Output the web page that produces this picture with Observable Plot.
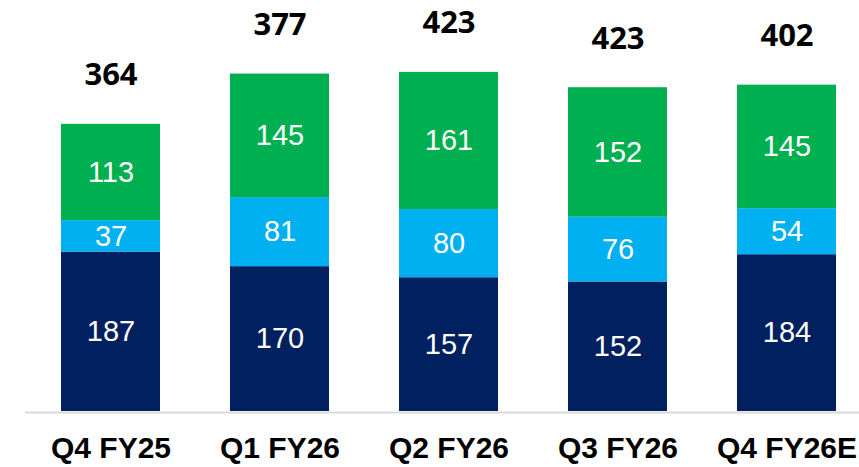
<!DOCTYPE html>
<html>
<head>
<meta charset="utf-8">
<script src="https://cdn.jsdelivr.net/npm/d3@7"></script>
<script src="https://cdn.jsdelivr.net/npm/@observablehq/plot@0.6"></script>
<style>
  html, body { margin: 0; padding: 0; background: #fff; }
  #chart svg { display: block; }
</style>
</head>
<body>
<div id="chart"></div>
<script>
const quarters = ["Q4 FY25", "Q1 FY26", "Q2 FY26", "Q3 FY26", "Q4 FY26E"];
const seriesNames = ["Bottom", "Middle", "Top"];
const bottomValues = [187, 170, 157, 152, 184];
const middleValues = [37, 81, 80, 76, 54];
const topValues = [113, 145, 161, 152, 145];
const totalLabels = [364, 377, 423, 423, 402];
const seriesColors = ["#002060", "#00B0F0", "#00B050"];

const seriesValues = [bottomValues, middleValues, topValues];
const data = [];
seriesNames.forEach((s, si) => {
  quarters.forEach((q, qi) => data.push({quarter: q, series: s, value: seriesValues[si][qi]}));
});
const totals = quarters.map((q, qi) => ({
  quarter: q,
  stackTop: bottomValues[qi] + middleValues[qi] + topValues[qi],
  label: totalLabels[qi]
}));

const chart = Plot.plot({
  width: 859,
  height: 467,
  marginLeft: 25,
  marginRight: 0,
  marginTop: 2,
  marginBottom: 56,
  style: {background: "#fff"},
  x: {domain: quarters, paddingInner: 0.414, paddingOuter: 0.173, align: 0.607, label: null},
  y: {domain: [0, 480], axis: null},
  color: {domain: seriesNames, range: seriesColors},
  marks: [
    Plot.barY(data, {x: "quarter", y: "value", fill: "series", z: "series"}),
    Plot.ruleY([0], {stroke: "#d9d9d9", strokeWidth: 2, dy: 1}),
    Plot.text(data, Plot.stackY({
      x: "quarter", y: "value", z: "series", text: d => String(d.value),
      fill: "white", fontSize: 29, fontFamily: "Liberation Sans, Arial, sans-serif"
    })),
    Plot.text(totals, {
      x: "quarter", y: "stackTop", text: d => String(d.label), dy: -49,
      fill: "black", fontSize: 31, fontWeight: "bold", fontFamily: "Open Sans, sans-serif"
    }),
    Plot.axisX({
      tickSize: 0, tickPadding: 25, fontSize: 30, fontWeight: "bold",
      fontFamily: "Liberation Sans, Arial, sans-serif", fill: "black", label: null
    })
  ]
});
document.getElementById("chart").appendChild(chart);
</script>
</body>
</html>
